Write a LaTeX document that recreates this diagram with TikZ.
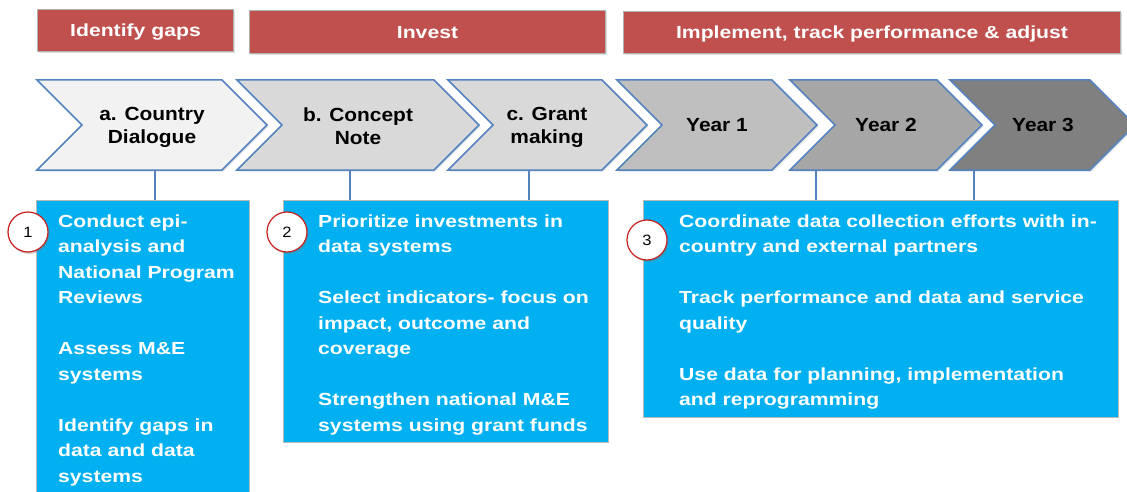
\documentclass[tikz,border=0pt]{standalone}
\usepackage{fontspec}
\setmainfont{Liberation Sans}[FakeStretch=1.21]
\newfontfamily\chevfont{Liberation Sans}[FakeStretch=1.1]
\usetikzlibrary{shadows}
\definecolor{banner}{RGB}{192,80,77}
\definecolor{cyanbox}{RGB}{0,176,240}
\definecolor{chevline}{RGB}{84,130,190}
\definecolor{circred}{RGB}{200,30,30}
\definecolor{gA}{RGB}{242,242,242}
\definecolor{gB}{RGB}{217,217,217}
\definecolor{gC}{RGB}{191,191,191}
\definecolor{gD}{RGB}{166,166,166}
\definecolor{gE}{RGB}{128,128,128}
\newcommand\chevshape[3]{%
  \draw[chevpath, fill=#3] (#1,80) -- (#2,80) -- (#2+45,125) -- (#2,170) -- (#1,170) -- (#1+45,125) -- cycle;}
\begin{document}
\begin{tikzpicture}[x=1pt,y=-1pt,
  bannerbox/.style={draw=gray!60, line width=1pt, fill=banner, text=white,
    font=\bfseries\fontsize{17.5}{22}\selectfont, inner sep=0pt, anchor=north west,
    text height=12.6pt, text depth=0pt,
    drop shadow={opacity=0.25, shadow xshift=1.5pt, shadow yshift=-1.5pt}},
  chevpath/.style={draw=chevline, line width=1.5pt, line join=miter,
    drop shadow={opacity=0.2, shadow xshift=1.5pt, shadow yshift=-1.5pt}},
  chevtext/.style={font=\chevfont\bfseries\fontsize{19}{22.6}\selectfont, align=center, text=black, inner sep=0pt, anchor=north},
  bluebox/.style={draw=gray!55, line width=1pt, fill=cyanbox, inner sep=0pt, anchor=north west},
  boxtext/.style={text=white, font=\bfseries\fontsize{17.5}{25.5}\selectfont, align=left, inner sep=0pt, anchor=north west},
  numcirc/.style={circle, draw=circred, line width=1.2pt, fill=white, minimum size=40pt, inner sep=0pt,
    font=\chevfont\fontsize{15}{18}\selectfont,
    drop shadow={opacity=0.35, shadow xshift=1.5pt, shadow yshift=-2pt}},
  link/.style={draw=chevline, line width=2pt}
]
\useasboundingbox (0,0) rectangle (1127,492);
\fill[white] (0,0) rectangle (1127,492);

% banners
\node[bannerbox, minimum width=196pt, minimum height=42pt] (g1) at (37,9) {Identify gaps};
\node[bannerbox, minimum width=356pt, minimum height=43pt] (g2) at (249,10) {Invest};
\node[bannerbox, minimum width=497pt, minimum height=42pt] (g3) at (623,11) {Implement, track performance \& adjust};

% chevrons
\chevshape{37}{222}{gA}
\chevshape{237}{434}{gB}
\chevshape{448}{602}{gB}
\chevshape{617}{772}{gC}
\chevshape{790}{937}{gD}
\chevshape{950}{1090}{gE}
\node[chevtext] (ca) at (152,107.5) {a. Country\\Dialogue};
\node[chevtext] (cb) at (358,107.5) {b. Concept\\Note};
\node[chevtext] (cc) at (547,107.5) {c. Grant\\making};
\node[chevtext] (y1) at (717,118) {Year 1};
\node[chevtext] (y2) at (886,118) {Year 2};
\node[chevtext] (y3) at (1043,118) {Year 3};

\coordinate (pa) at (155,171);
\coordinate (pb) at (350,171);
\coordinate (pc) at (529,171);
\coordinate (p1) at (816,171);
\coordinate (p2) at (974,171);

% blue boxes
\node[bluebox, minimum width=213pt, minimum height=300pt] (b1) at (36,200) {};
\node[bluebox, minimum width=325pt, minimum height=242pt] (b2) at (283,200) {};
\node[bluebox, minimum width=475pt, minimum height=217pt] (b3) at (643,200) {};

% connectors
\draw[link] (pa) -- (pa |- b1.north);
\draw[link] (pb) -- (pb |- b2.north);
\draw[link] (pc) -- (pc |- b2.north);
\draw[link] (p1) -- (p1 |- b3.north);
\draw[link] (p2) -- (p2 |- b3.north);

% texts
\node[boxtext] (t1) at (58,214.2) {Conduct epi-\\analysis and\\National Program\\Reviews\\[25.5pt]Assess M\&E\\systems\\[25.5pt]Identify gaps in\\data and data\\systems};
\node[boxtext] (t2) at (318,214.2) {Prioritize investments in\\data systems\\[25.5pt]Select indicators- focus on\\impact, outcome and\\coverage\\[25.5pt]Strengthen national M\&E\\systems using grant funds};
\node[boxtext] (t3) at (679,214.2) {Coordinate data collection efforts with in-\\country and external partners\\[25.5pt]Track performance and data and service\\quality\\[25.5pt]Use data for planning, implementation\\and reprogramming};

% numbered circles
\node[numcirc] (n1) at (28,232) {1};
\node[numcirc] (n2) at (287,232) {2};
\node[numcirc] (n3) at (647,240) {3};
\end{tikzpicture}
\end{document}
